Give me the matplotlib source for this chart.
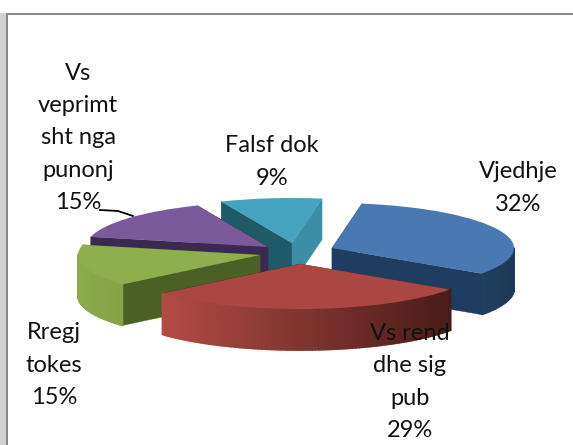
import numpy as np
import matplotlib
matplotlib.use('Agg')
import matplotlib.pyplot as plt
from matplotlib.colors import to_rgb
from matplotlib.patches import Polygon, Rectangle

W, H = 573, 445
CX, CY, RX, RY = 290, 252, 182, 45
DEPTH = 41 / RY

labels = ['Vjedhje', 'Vs rend\ndhe sig\npub', 'Rregj\ntokes', 'Vs\nveprimt\nsht nga\npunonj', 'Falsf dok']
values = [32, 29, 15, 15, 9]
top_colors = ['#4a79b1', '#ab4743', '#8fae4d', '#7b5a9b', '#45a3bf']
wall_low = ['#1f3d60', '#5a2320', '#4b6024', '#3a2a52', '#3b8ea6']
wall_high = ['#2a4d75', '#7a2e2a', '#4b6024', '#3a2a52', '#1f5a69']
arc_left = ['#20405f', '#b44b45', '#8cab4b', '#3a2a52', '#3b8ea6']
arc_right = ['#1e3a59', '#4a1c18', '#86a346', '#3a2a52', '#3b8ea6']
draw_order = [4, 0, 3, 2, 1]
# where each slice's tip sits once pulled out, in pixels
tips = [(332, 248), (300, 264), (260, 255), (268, 247), (292, 243)]
label_pos = [(518, 188), (410, 382), (54, 365), (78, 138), (272, 162)]

fig = plt.figure(figsize=(W / 100, H / 100), dpi=100)
ax = fig.add_axes([0, 0, 1, 1])

wedges, _ = ax.pie(values, colors=top_colors, startangle=80.5, counterclock=False)
ax.set_aspect('auto')
ax.set_xlim(-CX / RX, (W - CX) / RX)
ax.set_ylim((CY - H) / RY, CY / RY)
ax.axis('off')


def px(x, y):
    return (x - CX) / RX, (CY - y) / RY


def wall(w, angle, color, z):
    cx, cy = w.center
    a = np.radians(angle)
    ex, ey = cx + np.cos(a), cy + np.sin(a)
    pts = [(cx, cy), (ex, ey), (ex, ey - DEPTH), (cx, cy - DEPTH)]
    ax.add_patch(Polygon(pts, closed=True, fc=color, ec=color, lw=0.3, zorder=z))


for z, i in enumerate(draw_order):
    w = wedges[i]
    w.set_center(px(*tips[i]))
    base = 10 * (z + 1)
    w.set_zorder(base + 3)
    wall(w, w.theta2, wall_high[i], base)
    wall(w, w.theta1, wall_low[i], base + 1)
    # outer rim, only the part that faces the viewer
    angles = np.arange(w.theta1, w.theta2 + 1, 1.0)
    angles = angles[np.sin(np.radians(angles)) < 0.02]
    if len(angles) < 2:
        continue
    xs = np.cos(np.radians(angles))
    c1, c2 = np.array(to_rgb(arc_left[i])), np.array(to_rgb(arc_right[i]))
    span = max(xs.max() - xs.min(), 1e-6)
    for k in range(len(angles) - 1):
        t = (0.5 * (xs[k] + xs[k + 1]) - xs.min()) / span
        col = c1 * (1 - t) + c2 * t
        a0, a1 = np.radians(angles[k]), np.radians(angles[k + 1])
        cx, cy = w.center
        p0 = (cx + np.cos(a0), cy + np.sin(a0))
        p1 = (cx + np.cos(a1), cy + np.sin(a1))
        quad = [p0, p1, (p1[0], p1[1] - DEPTH), (p0[0], p0[1] - DEPTH)]
        ax.add_patch(Polygon(quad, closed=True, fc=col, ec=col, lw=1.2, zorder=base + 2))

for name, v, (x, y) in zip(labels, values, label_pos):
    tx, ty = px(x, y)
    ax.text(tx, ty, f'{name}\n{v}%', ha='center', va='center', fontsize=17, family='Lato',
            color='#111111', linespacing=1.65, zorder=100)

lx, ly = zip(*[px(100, 210), px(118, 211), px(133, 216)])
ax.plot(lx, ly, color='black', lw=1.3, zorder=5)

# frame of the pasted picture
def band(x, y, w, h, color):
    fig.add_artist(Rectangle((x / W, 1 - (y + h) / H), w / W, h / H, transform=fig.transFigure,
                             fc=color, ec='none', zorder=200))

band(0, 13, 6, 432, '#d2d2d2')
band(6, 13, 2, 432, '#8a8a8a')
band(6, 13, 567, 2, '#8a8a8a')

fig.savefig('out.png', dpi=100)
